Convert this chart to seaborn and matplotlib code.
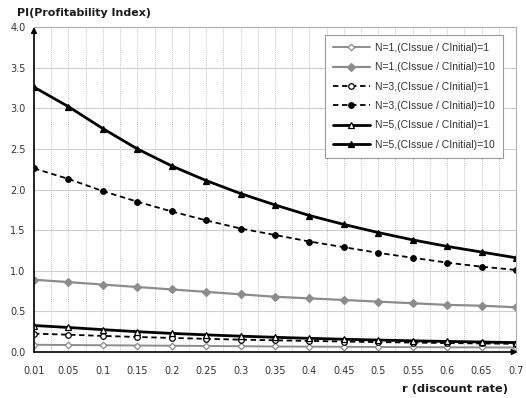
import matplotlib
matplotlib.use("Agg")
import matplotlib.pyplot as plt
import seaborn as sns
import pandas as pd
import numpy as np

rates = ["0.01", "0.05", "0.1", "0.15", "0.2", "0.25", "0.3", "0.35", "0.4",
         "0.45", "0.5", "0.55", "0.6", "0.65", "0.7"]

n1_r1 = [0.089, 0.086, 0.083, 0.080, 0.077, 0.074, 0.071, 0.068, 0.066, 0.064, 0.062, 0.060, 0.058, 0.057, 0.055]
n1_r10 = [0.89, 0.86, 0.83, 0.80, 0.77, 0.74, 0.71, 0.68, 0.66, 0.64, 0.62, 0.60, 0.58, 0.57, 0.55]
n3_r1 = [0.226, 0.213, 0.198, 0.185, 0.173, 0.162, 0.152, 0.144, 0.136, 0.129, 0.122, 0.116, 0.110, 0.105, 0.101]
n3_r10 = [2.26, 2.13, 1.98, 1.85, 1.73, 1.62, 1.52, 1.44, 1.36, 1.29, 1.22, 1.16, 1.10, 1.05, 1.01]
n5_r1 = [0.326, 0.302, 0.275, 0.250, 0.229, 0.211, 0.195, 0.181, 0.168, 0.157, 0.147, 0.138, 0.130, 0.123, 0.116]
n5_r10 = [3.26, 3.02, 2.75, 2.50, 2.29, 2.11, 1.95, 1.81, 1.68, 1.57, 1.47, 1.38, 1.30, 1.23, 1.16]

labels = ["N=1,(CIssue / CInitial)=1", "N=1,(CIssue / CInitial)=10",
          "N=3,(CIssue / CInitial)=1", "N=3,(CIssue / CInitial)=10",
          "N=5,(CIssue / CInitial)=1", "N=5,(CIssue / CInitial)=10"]
series = [n1_r1, n1_r10, n3_r1, n3_r10, n5_r1, n5_r10]

gray = "#8c8c8c"
styles = [
    dict(color=gray, linestyle="-", lw=1.4, marker="D", ms=3.3, mfc="white", mec=gray, mew=0.9),
    dict(color=gray, linestyle="-", lw=1.6, marker="D", ms=3.6, mfc=gray, mec=gray, mew=0.9),
    dict(color="black", linestyle=(0, (3, 2)), lw=1.3, marker="o", ms=4.0, mfc="white", mec="black", mew=0.9),
    dict(color="black", linestyle=(0, (3, 2)), lw=1.3, marker="o", ms=4.0, mfc="black", mec="black", mew=0.9),
    dict(color="black", linestyle="-", lw=2.0, marker="^", ms=4.3, mfc="white", mec="black", mew=0.9),
    dict(color="black", linestyle="-", lw=2.0, marker="^", ms=4.6, mfc="black", mec="black", mew=0.9),
]

sns.set_theme(style="white")
plt.rcParams["font.family"] = ["DejaVu Sans"]

fig = plt.figure(figsize=(5.26, 3.98), dpi=100)
ax = fig.add_axes([34/526, 1-352/398, (516-34)/526, (352-27)/398])

x = np.arange(len(rates))
for vals, lab, st in zip(series, labels, styles):
    df = pd.DataFrame({"x": x, "y": vals})
    sns.lineplot(data=df, x="x", y="y", ax=ax, label=lab, **st)

ax.set_xlim(0, len(rates) - 1)
ax.set_ylim(0, 4.0)
ax.set_xticks(x)
ax.set_xticklabels(rates)
ax.set_yticks(np.arange(0, 4.01, 0.5))
ax.set_yticklabels([f"{v:.1f}" for v in np.arange(0, 4.01, 0.5)])
ax.set_xticks(np.arange(0.5, len(rates) - 1, 1), minor=True)
ax.tick_params(axis="both", which="both", length=0, labelsize=7, colors="#333333")
ax.tick_params(axis="x", pad=10)
ax.tick_params(axis="y", pad=6)
ax.set_xlabel("")
ax.set_ylabel("")

ax.grid(axis="y", which="major", color="#d0d0d0", lw=0.8, linestyle="-")
ax.grid(axis="x", which="both", color="#c4c4c4", lw=0.7, linestyle=(0, (1, 1)))
ax.set_axisbelow(True)

for s in ["left", "bottom"]:
    ax.spines[s].set_visible(False)
for s in ["top", "right"]:
    ax.spines[s].set_color("#b0b0b0")
    ax.spines[s].set_linewidth(0.8)

ax.annotate("", xy=(0, 4.0), xytext=(0, 0), xycoords="data",
            arrowprops=dict(arrowstyle="-|>", color="black", lw=1.2, mutation_scale=8,
                            shrinkA=0, shrinkB=0), annotation_clip=False)
ax.annotate("", xy=(len(rates) - 1 + 0.05, 0), xytext=(0, 0), xycoords="data",
            arrowprops=dict(arrowstyle="-|>", color="black", lw=1.2, mutation_scale=8,
                            shrinkA=0, shrinkB=0), annotation_clip=False)

leg = ax.legend(loc="upper right", bbox_to_anchor=((503-34)/482, (352-35)/325),
                prop={"family": ["Liberation Sans"], "size": 7.5},
                frameon=True, fancybox=False, handlelength=3.6, handletextpad=0.5,
                labelspacing=0.9, borderpad=0.75, borderaxespad=0)
leg.get_frame().set_edgecolor("#9a9a9a")
leg.get_frame().set_linewidth(0.8)
leg.get_frame().set_facecolor("white")
leg.get_frame().set_alpha(1)
for t in leg.get_texts():
    t.set_color("#333333")

fig.text(17/526, 1-13/398, "PI(Profitability Index)", fontsize=7.9, fontweight="bold",
         ha="left", va="center", color="#1a1a1a")
fig.text(508/526, 1-389/398, "r (discount rate)", fontsize=8.2, fontweight="bold",
         ha="right", va="center", color="#1a1a1a")

fig.savefig("out.png", dpi=100)
